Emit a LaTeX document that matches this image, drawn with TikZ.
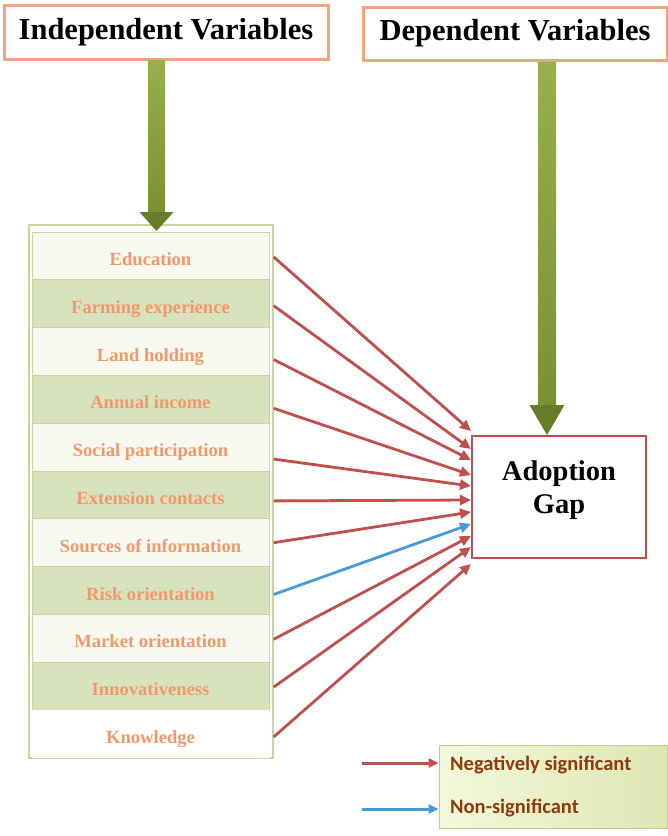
\documentclass[tikz,border=0pt]{standalone}
\usepackage{fontspec}
\setmainfont{Liberation Serif}
\newfontfamily\legendfont{Carlito}
\usetikzlibrary{arrows.meta,calc}
\definecolor{hdrborder}{HTML}{F4A37F}
\definecolor{rowgreen}{HTML}{D7E3BC}
\definecolor{rowlight}{HTML}{F7F9F0}
\definecolor{rowline}{HTML}{C5D79E}
\definecolor{rowtext}{HTML}{F3986A}
\definecolor{redc}{HTML}{C0504D}
\definecolor{bluec}{HTML}{4A9AD8}
\definecolor{olivetop}{HTML}{98AF4C}
\definecolor{olivebot}{HTML}{7A9033}
\definecolor{olivehead}{HTML}{677C28}
\definecolor{legtext}{HTML}{8F3A0C}
\definecolor{legA}{HTML}{F4F8DA}
\definecolor{legB}{HTML}{DCE7B3}
\definecolor{legborder}{HTML}{BFD08E}
\tikzset{
  hdr/.style={draw=hdrborder, line width=3pt, fill=white, inner sep=0pt,
    font=\fontsize{30.5}{34}\selectfont\bfseries},
  rowbox/.style={draw=rowline, line width=0.8pt, minimum width=237pt, minimum height=47.8pt,
    inner sep=0pt, text=rowtext, text height=19pt, text depth=0pt,
    font=\fontsize{18.6}{20}\selectfont\bfseries},
  greenrow/.style={rowbox, fill=rowgreen},
  lightrow/.style={rowbox, fill=rowlight},
  sig/.style={draw=redc, line width=2.8pt, -{Triangle[length=11pt,width=10pt]}},
  nonsig/.style={draw=bluec, line width=2.8pt, -{Triangle[length=11pt,width=10pt]}},
  legarrow/.style={line width=3pt, -{Triangle[length=10pt,width=9pt]}},
  legtxt/.style={anchor=west, text=legtext, font=\legendfont\fontsize{20.5}{22}\selectfont\bfseries, inner sep=0pt}
}
\begin{document}
\begin{tikzpicture}[x=1pt,y=-1pt]
\useasboundingbox (0,0) rectangle (668,836);
\fill[white] (0,0) rectangle (668,836);

% headers
\node[hdr, minimum width=324pt, minimum height=54pt] (indep) at (166,32) {Independent Variables};
\node[hdr, minimum width=304pt, minimum height=53pt] (dep) at (515,33.5) {Dependent Variables};

% list box
\node[draw=rowline, line width=1.3pt, fill=white, minimum width=244pt, minimum height=533pt, inner sep=0pt] (list) at (151,491.5) {};
\node[lightrow] (r1) at (150.5,255.9) {Education};
\node[greenrow] (r2) at (150.5,303.7) {Farming experience};
\node[lightrow] (r3) at (150.5,351.5) {Land holding};
\node[greenrow] (r4) at (150.5,399.3) {Annual income};
\node[lightrow] (r5) at (150.5,447.1) {Social participation};
\node[greenrow] (r6) at (150.5,494.9) {Extension contacts};
\node[lightrow] (r7) at (150.5,542.7) {Sources of information};
\node[greenrow] (r8) at (150.5,590.5) {Risk orientation};
\node[lightrow] (r9) at (150.5,638.3) {Market orientation};
\node[greenrow] (r10) at (150.5,686.1) {Innovativeness};
\node[rowbox, draw=none, fill=white] (r11) at (150.5,733.9) {Knowledge};

% adoption gap
\node[draw=redc, line width=2pt, fill=white, minimum width=174pt, minimum height=122pt, inner sep=0pt,
  label={[name=gaplbl, yshift=7pt, align=center, font=\fontsize{28.5}{33}\selectfont\bfseries]center:Adoption\\Gap}] (gap) at (559,497) {};

% big green arrows
\coordinate (a1t) at (156.5,60);
\coordinate (a1h) at (156.5,231);
\path[top color=olivetop, bottom color=olivebot]
  ($(a1t)+(-8.5,0)$) -- ($(a1t)+(8.5,0)$) -- ($(a1h)+(8.5,-19)$) -- ($(a1h)+(-8.5,-19)$) -- cycle;
\fill[olivehead] ($(a1h)+(-17,-19)$) -- ($(a1h)+(17,-19)$) -- (a1h) -- cycle;

\coordinate (a2t) at (547,62);
\coordinate (a2h) at (gap.north);
\path[top color=olivetop, bottom color=olivebot]
  ($(a2t)+(-9,0)$) -- ($(a2t)+(9,0)$) -- ($(a2t |- a2h)+(9,-30)$) -- ($(a2t |- a2h)+(-9,-30)$) -- cycle;
\fill[olivehead] ($(a2t |- a2h)+(-17.5,-30)$) -- ($(a2t |- a2h)+(17.5,-30)$) -- ($(a2t |- a2h)+(0,0)$) -- cycle;

% connectors
\coordinate (gw) at (gap.north west);
\draw[sig]    ($(list.east |- r1)+(0,1)$)  -- ($(gw)+(0,-4)$);
\draw[sig]    ($(list.east |- r2)+(0,2)$)  -- ($(gw)+(0,14)$);
\draw[sig]    ($(list.east |- r3)+(0,8)$)  -- ($(gw)+(0,25)$);
\draw[sig]    ($(list.east |- r4)+(0,9)$)  -- ($(gw)+(0,40)$);
\draw[sig]    ($(list.east |- r5)+(0,12)$) -- ($(gw)+(0,51)$);
\draw[sig]    ($(list.east |- r6)+(0,6)$)  -- ($(gw)+(0,65)$);
\draw[sig]    ($(list.east |- r7)+(0,0)$)  -- ($(gw)+(0,77)$);
\draw[nonsig] ($(list.east |- r8)+(0,4)$)  -- ($(gw)+(0,89)$);
\draw[sig]    ($(list.east |- r9)+(0,1)$)  -- ($(gw)+(0,101)$);
\draw[sig]    ($(list.east |- r10)+(0,1)$) -- ($(gw)+(0,112)$);
\draw[sig]    ($(list.east |- r11)+(0,3)$) -- ($(gw)+(0,129)$);

% legend
\node[draw=legborder, line width=0.8pt, left color=legA, right color=legB, minimum width=228pt, minimum height=83pt, inner sep=0pt] (legend) at (553,786.5) {};
\node[legtxt] (negtxt) at (450,765) {Negatively significant};
\node[legtxt] (nontxt) at (450,808) {Non-significant};
\coordinate (l1s) at (362,763);
\coordinate (l2s) at (362,809);
\draw[legarrow, draw=redc]  (l1s) -- (legend.west |- l1s);
\draw[legarrow, draw=bluec] (l2s) -- (legend.west |- l2s);
\end{tikzpicture}
\end{document}
